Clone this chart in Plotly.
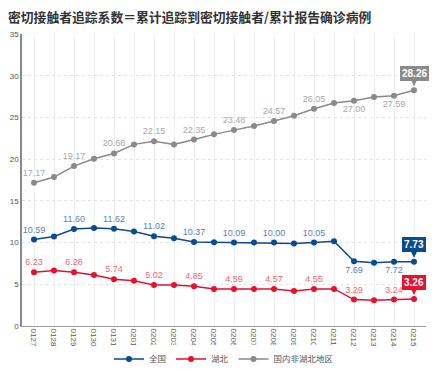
import plotly.graph_objects as go

dates = ["0127", "0128", "0129", "0130", "0131", "0201", "0202", "0203", "0204", "0205",
         "0206", "0207", "0208", "0209", "0210", "0211", "0212", "0213", "0214", "0215"]

national = [10.36, 10.72, 11.62, 11.74, 11.65, 11.33, 10.77, 10.53, 10.08, 10.05,
            10.0, 10.0, 10.0, 9.9, 10.0, 10.17, 7.76, 7.57, 7.69, 7.69]
national_labels = ["10.59", "", "11.60", "", "11.62", "", "11.02", "", "10.37", "",
                   "10.09", "", "10.00", "", "10.05", "", "7.69", "", "7.72", ""]
national_last = "7.73"

hubei = [6.43, 6.64, 6.43, 6.11, 5.6, 5.43, 4.92, 4.92, 4.76, 4.44,
         4.44, 4.44, 4.44, 4.2, 4.44, 4.44, 3.17, 3.09, 3.17, 3.23]
hubei_labels = ["6.23", "", "6.28", "", "5.74", "", "5.02", "", "4.85", "",
                "4.59", "", "4.57", "", "4.55", "", "3.29", "", "3.24", ""]
hubei_last = "3.26"

nonhubei = [17.17, 17.85, 19.17, 20.05, 20.68, 21.77, 22.15, 21.77, 22.35, 22.97,
            23.48, 23.97, 24.57, 25.2, 26.05, 26.73, 27.00, 27.45, 27.59, 28.26]
nonhubei_labels = ["17.17", "", "19.17", "", "20.68", "", "22.15", "", "22.35", "",
                   "23.48", "", "24.57", "", "26.05", "", "27.00", "", "27.59", ""]
nonhubei_last = "28.26"

BLUE = "#0b4a8c"
RED = "#e5112e"
GRAY = "#8a8a8a"

fig = go.Figure()
series = [
    ("全国", national, national_labels, national_last, BLUE, "#5a82b8", [16, 18]),
    ("湖北", hubei, hubei_labels, hubei_last, RED, "#ef6678", []),
    ("国内非湖北地区", nonhubei, nonhubei_labels, nonhubei_last, GRAY, "#a8a8a8", [16, 18]),
]
for name, vals, labels, last, col, lcol, below in series:
    pos = ["bottom center" if i in below else "top center" for i in range(len(vals))]
    fig.add_trace(go.Scatter(
        x=dates, y=vals, name=name, mode="lines+markers+text",
        line=dict(color=col, width=1.5), marker=dict(color=col, size=6),
        text=labels, textposition=pos,
        textfont=dict(color=lcol, size=9, family="Liberation Sans, Arial"),
        cliponaxis=False,
    ))
    fig.add_annotation(
        xref="x", yref="y", x=len(dates) - 1, y=vals[-1],
        text="<b>" + last + "</b>", showarrow=True,
        arrowhead=2, arrowsize=1, arrowwidth=1.2, arrowcolor=col,
        ax=0, ay=-17, standoff=4,
        bgcolor=col, bordercolor=col, borderpad=1, borderwidth=1,
        font=dict(color="white", size=10, family="Liberation Sans, Arial"),
    )

fig.update_layout(
    width=436, height=372,
    margin=dict(l=22, r=10, t=34, b=46, autoexpand=False),
    paper_bgcolor="white", plot_bgcolor="white",
    title=dict(text="密切接触者追踪系数＝累计追踪到密切接触者/累计报告确诊病例",
               x=8 / 436, xanchor="left", xref="container",
               y=1 - 18 / 372, yanchor="middle", yref="container",
               font=dict(size=12.8, color="#333333", family="Noto Sans CJK SC", weight=600)),
    showlegend=True,
    legend=dict(orientation="h", x=0.5, xanchor="center",
                y=(372 - 359) / 372, yanchor="middle", yref="container",
                font=dict(size=8.5, color="#555555", family="Noto Sans CJK SC"),
                itemwidth=30, tracegroupgap=0),
    font=dict(family="Liberation Sans, Arial", color="#555555"),
)
fig.update_xaxes(
    type="category", range=[-0.6, 19.6], tickangle=90,
    tickfont=dict(size=8, color="#555555"),
    showgrid=True, gridcolor="#efefef", gridwidth=1,
    showline=True, linecolor="#999999", linewidth=1,
    ticks="", fixedrange=True, automargin=False,
)
fig.update_yaxes(
    range=[0, 35], dtick=5,
    tickfont=dict(size=8, color="#555555"),
    showgrid=True, gridcolor="#e2e2e2", griddash="dot", gridwidth=1,
    showline=True, linecolor="#888888", linewidth=1.5,
    zeroline=False, ticks="", automargin=False,
)

fig.write_html("out.html", config={"displayModeBar": False},
               post_script="document.body.style.margin='0';")
